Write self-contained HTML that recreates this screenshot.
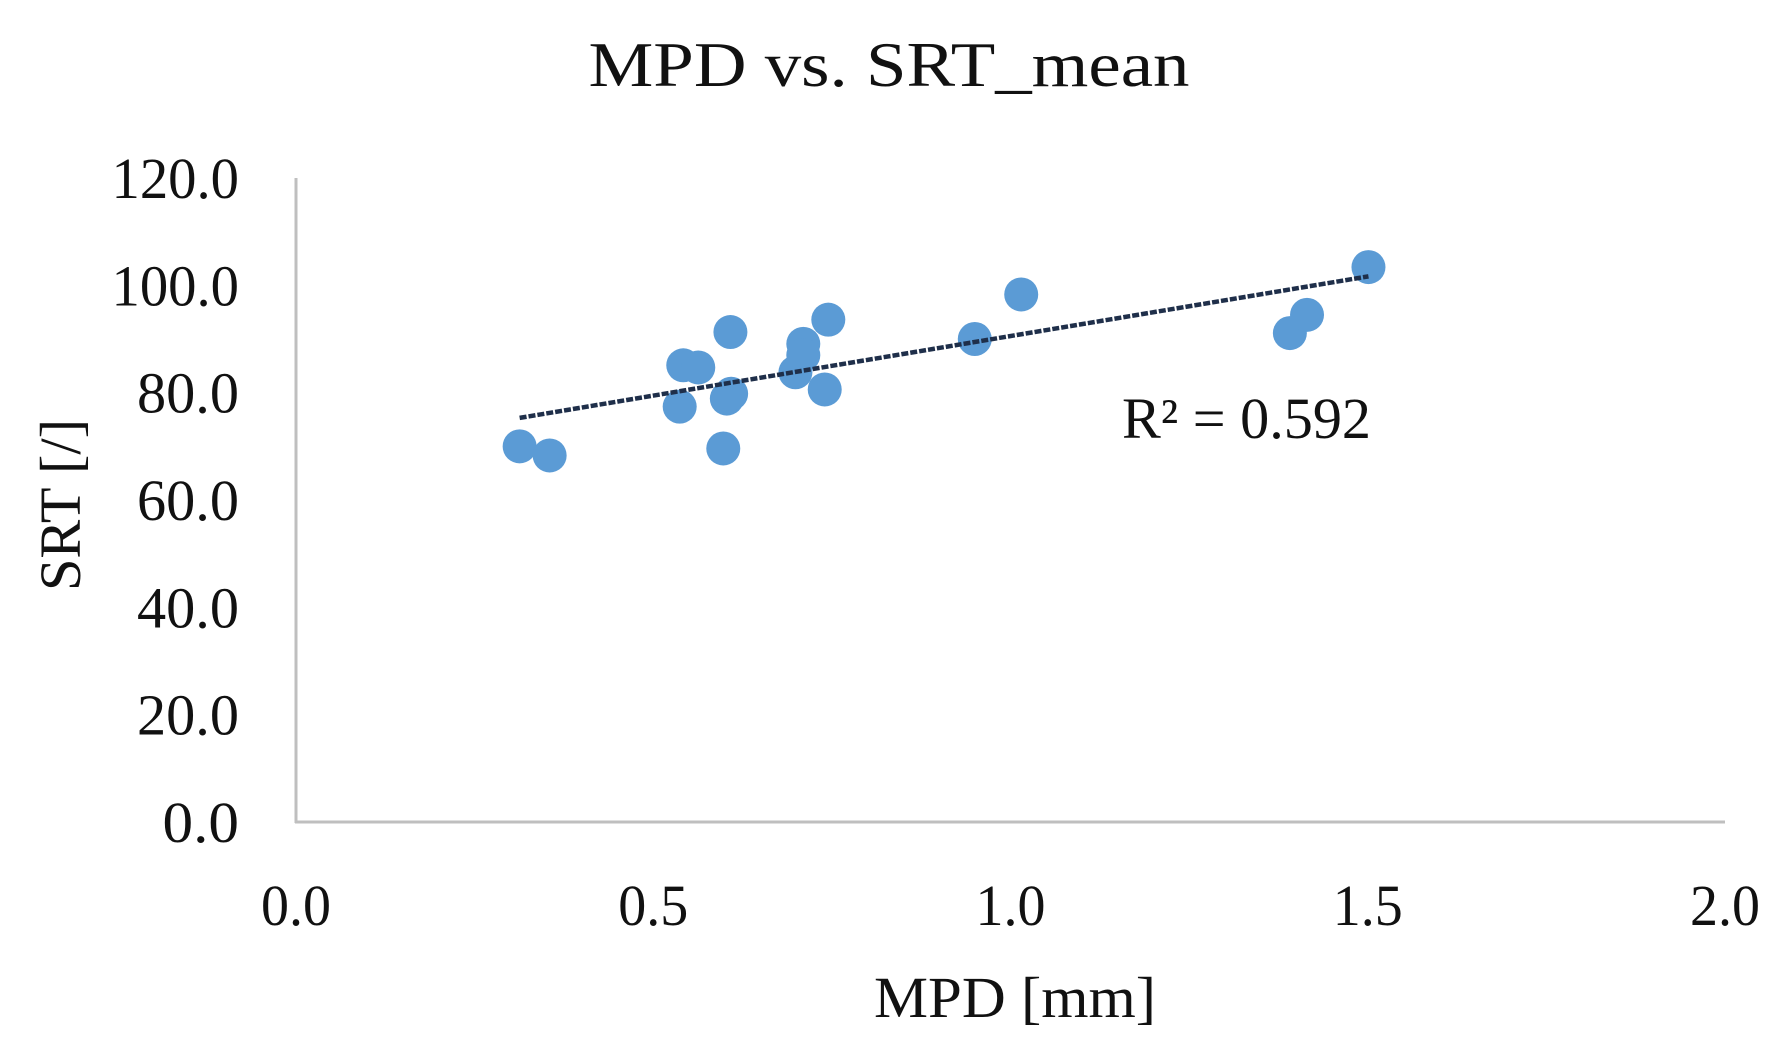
<!DOCTYPE html>
<html><head><meta charset="utf-8"><style>
html,body{margin:0;padding:0;background:#fff;}
svg{display:block;font-family:"Liberation Serif",serif;}
</style></head><body>
<svg id="chart" width="1790" height="1054" viewBox="0 0 1790 1054" xmlns="http://www.w3.org/2000/svg">
<text x="889" y="86" font-size="64" text-anchor="middle" textLength="601" lengthAdjust="spacingAndGlyphs" fill="#111">MPD vs. SRT_mean</text>
<g id="yticks"></g><g id="xticks"></g>
<line x1="296" y1="178" x2="296" y2="823" stroke="#bfbfbf" stroke-width="3"/>
<line x1="295" y1="822" x2="1725" y2="822" stroke="#bfbfbf" stroke-width="3"/>
<g id="points"></g>
<g id="trend"></g>
<text x="1122" y="438" font-size="58" textLength="249" lengthAdjust="spacingAndGlyphs" fill="#111">R² = 0.592</text>
<text x="1015" y="1017" font-size="58" text-anchor="middle" textLength="282" lengthAdjust="spacingAndGlyphs" fill="#111">MPD [mm]</text>
<text transform="translate(80,505) rotate(-90)" font-size="58" text-anchor="middle" textLength="172" lengthAdjust="spacingAndGlyphs" fill="#111">SRT [/]</text>
</svg>
<script>
const mpdValues=[0.313,0.355,0.542,0.563,0.537,0.608,0.598,0.603,0.609,0.699,0.710,0.710,0.745,0.740,0.950,1.015,1.391,1.415,1.501];
const srtValues=[70.0,68.3,85.1,84.7,77.4,91.3,69.6,78.9,79.8,83.8,89.1,87.0,93.6,80.6,90.0,98.3,91.1,94.5,103.4];
const yTickLabels=["0.0","20.0","40.0","60.0","80.0","100.0","120.0"];
const xTickLabels=["0.0","0.5","1.0","1.5","2.0"];
const yTickValues=[0,20,40,60,80,100,120];
const xTickValues=[0,0.5,1.0,1.5,2.0];
const trendCoef=[22.2,68.35];
const X=v=>296+v*(1725-296)/2;
const Y=v=>822-v*(822-178)/120;
const NS="http://www.w3.org/2000/svg";
function mk(tag,attrs,parent){const e=document.createElementNS(NS,tag);for(const k in attrs)e.setAttribute(k,attrs[k]);parent.appendChild(e);return e;}
const yt=document.getElementById('yticks');
yTickValues.forEach((v,i)=>{const t=mk('text',{x:239,y:Y(v)+20,'font-size':58,'text-anchor':'end',fill:'#111',textLength:yTickLabels[i].length*25.5,lengthAdjust:'spacingAndGlyphs'},yt);


t.textContent=yTickLabels[i];});
const xt=document.getElementById('xticks');
xTickValues.forEach((v,i)=>{const t=mk('text',{x:X(v),y:925,'font-size':58,'text-anchor':'middle',fill:'#111',textLength:70,lengthAdjust:'spacingAndGlyphs'},xt);


t.textContent=xTickLabels[i];});
const pg=document.getElementById('points');
mpdValues.forEach((x,i)=>{const c=mk('circle',{cx:X(x),cy:Y(srtValues[i]),r:17,fill:'#5b9bd5'},pg);

});
const xmin=Math.min(...mpdValues),xmax=Math.max(...mpdValues);
const tg=document.getElementById('trend');
const ln=mk('line',{x1:X(xmin),y1:Y(trendCoef[0]*xmin+trendCoef[1]),x2:X(xmax),y2:Y(trendCoef[0]*xmax+trendCoef[1]),stroke:'#1f2f4a','stroke-width':4.5,'stroke-dasharray':'7 2'},tg);


</script>
</body></html>
